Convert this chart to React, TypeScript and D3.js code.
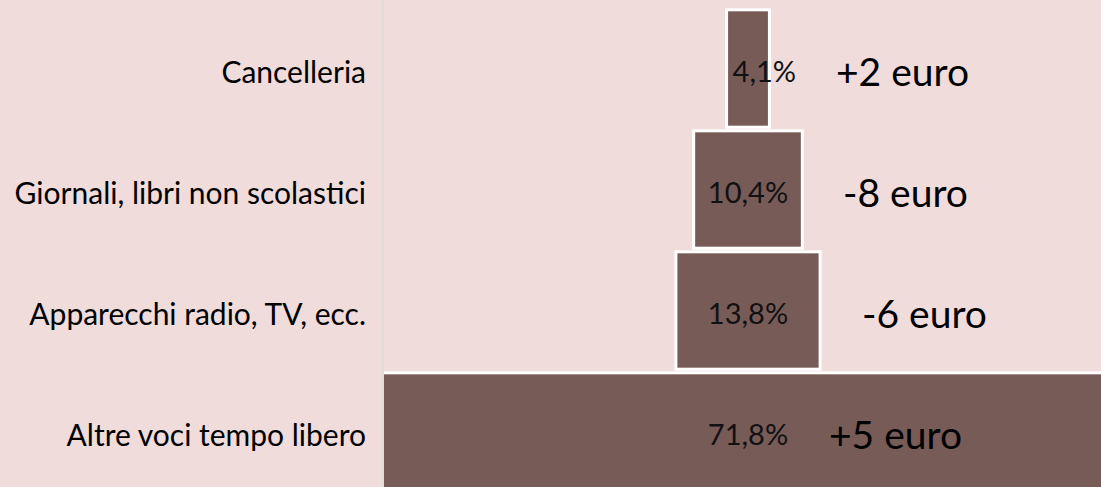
import React, { useEffect, useRef } from 'react';
import * as d3 from 'd3';

// quota di spesa per voce (%) e variazione in euro
const categories = [
  'Cancelleria',
  'Giornali, libri non scolastici',
  'Apparecchi radio, TV, ecc.',
  'Altre voci tempo libero',
];
const shares = [4.1, 10.4, 13.8, 71.8];
const shareLabels = ['4,1%', '10,4%', '13,8%', '71,8%'];
const changeLabels = ['+2 euro', '-8 euro', '-6 euro', '+5 euro'];

// text boxes were placed by hand in the original, one per row
const changeX = [836, 843, 862, 829];

const W = 1101;
const H = 487;
const FONT = 'Lato, "Open Sans", sans-serif';

const App = () => {
  const svgRef = useRef<SVGSVGElement>(null);

  useEffect(() => {
    const svg = d3.select(svgRef.current);
    svg.selectAll('*').remove();

    const plotLeft = 384;
    const center = 748;

    svg.append('rect').attr('width', W).attr('height', H).attr('fill', '#efdcdb');

    // bars are centred (funnel), width proportional to the share
    const x = d3.scaleLinear().domain([-50, 50]).range([center - 522.5, center + 522.5]);
    const y = d3.scaleBand<string>()
      .domain(categories)
      .range([8, 492])
      .paddingInner(0.03)
      .paddingOuter(0.015);

    svg.append('clipPath').attr('id', 'plot-clip')
      .append('rect')
      .attr('x', plotLeft).attr('y', 0)
      .attr('width', W - plotLeft + 10).attr('height', H + 10);

    const rows = categories.map((c, i) => ({ c, v: shares[i], label: shareLabels[i], change: changeLabels[i], cx: changeX[i] }));

    svg.append('g')
      .attr('clip-path', 'url(#plot-clip)')
      .selectAll('rect')
      .data(rows)
      .enter().append('rect')
      .attr('x', d => x(-d.v / 2))
      .attr('width', d => x(d.v / 2) - x(-d.v / 2))
      .attr('y', d => y(d.c)!)
      .attr('height', y.bandwidth())
      .attr('fill', '#775b57')
      .attr('stroke', '#ffffff')
      .attr('stroke-width', 3);

    // vertical category axis
    svg.append('line')
      .attr('x1', plotLeft - 1).attr('x2', plotLeft - 1)
      .attr('y1', 0).attr('y2', H)
      .attr('stroke', '#e4dcdc')
      .attr('stroke-width', 2);

    const mid = (c: string) => y(c)! + y.bandwidth() / 2 + 2;

    svg.append('g').selectAll('text')
      .data(rows)
      .enter().append('text')
      .attr('x', 366)
      .attr('y', d => mid(d.c))
      .attr('text-anchor', 'end')
      .attr('dominant-baseline', 'central')
      .attr('font-family', FONT)
      .attr('font-size', 30)
      .attr('fill', '#000')
      .text(d => d.c);

    // share labels inside the bars; narrow bars get a left-anchored label
    svg.append('g').selectAll('text')
      .data(rows)
      .enter().append('text')
      .attr('x', d => (x(d.v / 2) - x(-d.v / 2) < 60 ? x(-d.v / 2) + 6 : center))
      .attr('y', d => mid(d.c))
      .attr('text-anchor', d => (x(d.v / 2) - x(-d.v / 2) < 60 ? 'start' : 'middle'))
      .attr('dominant-baseline', 'central')
      .attr('font-family', FONT)
      .attr('font-size', 29)
      .attr('fill', '#111')
      .text(d => d.label);

    svg.append('g').selectAll('text')
      .data(rows)
      .enter().append('text')
      .attr('x', d => d.cx)
      .attr('y', d => mid(d.c))
      .attr('dominant-baseline', 'central')
      .attr('font-family', FONT)
      .attr('font-size', 39)
      .attr('fill', '#000')
      .text(d => d.change);
  }, []);

  return (
    <div style={{ position: 'absolute', left: 0, top: 0 }}>
      <svg ref={svgRef} width={W} height={H} style={{ display: 'block' }} />
    </div>
  );
};

export default App;
